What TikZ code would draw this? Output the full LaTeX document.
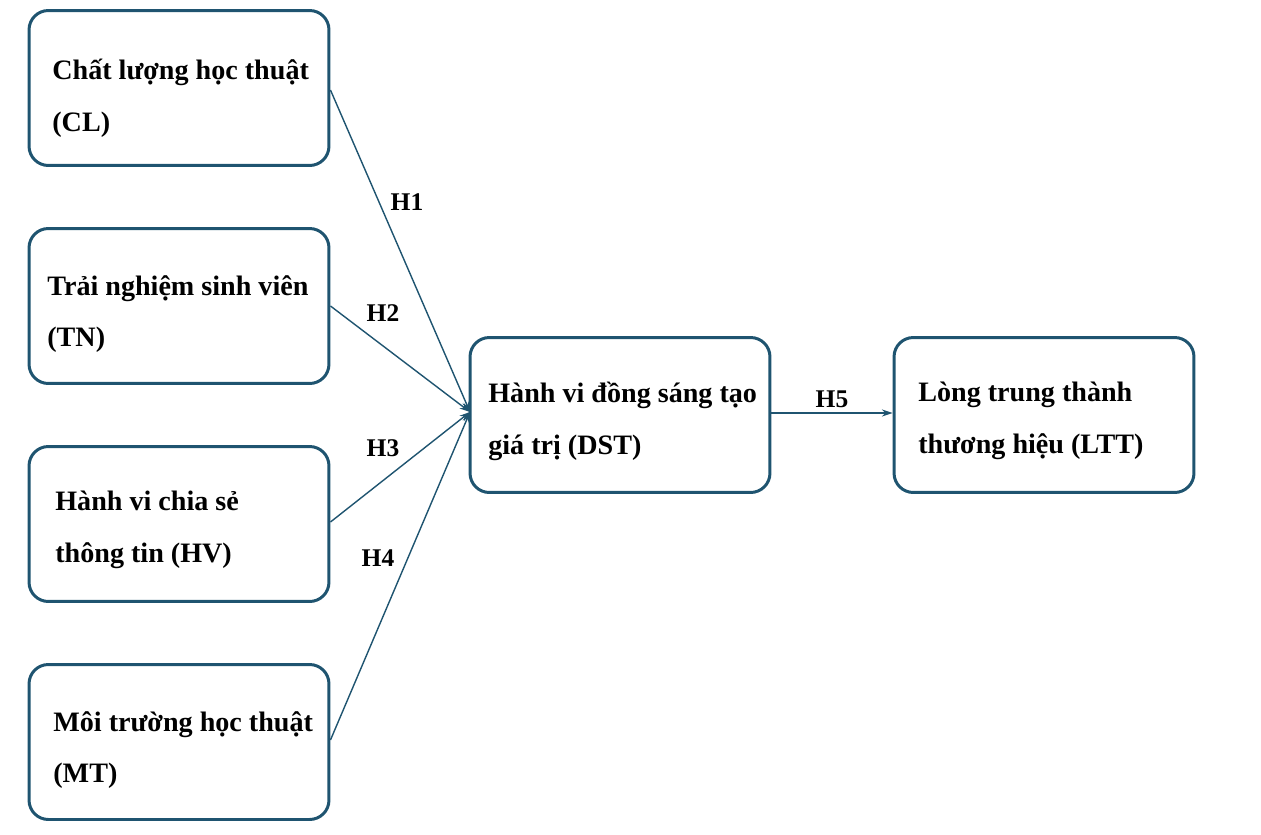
\documentclass[tikz,border=0pt]{standalone}
\usepackage{fontspec}
\setmainfont{Liberation Serif}
\usetikzlibrary{arrows.meta}
\definecolor{bc}{HTML}{1F5470}
\begin{document}
\begin{tikzpicture}[x=0.02cm,y=-0.02cm,
 box/.style={draw=bc,line width=1.7pt,rounded corners=11pt,minimum width=6.0cm,minimum height=3.1cm},
 txt/.style={anchor=west,align=left,inner sep=0pt,font=\fontsize{16pt}{29.5pt}\selectfont\bfseries},
 arr/.style={bc,line width=0.8pt,-{Stealth[length=6pt,width=4pt]}},
 lab/.style={font=\fontsize{14.5pt}{16pt}\selectfont\bfseries}]
\useasboundingbox (0,0) rectangle (1261,835);
\node[box] (cl) at (179,88) {};
\node[box] (tn) at (179,306) {};
\node[box] (hv) at (179,524) {};
\node[box] (mt) at (179,742) {};
\node[box] (dst) at (620,415) {};
\node[box] (ltt) at (1044,415) {};
\node[txt] (tcl) at (52,98) {Chất lượng học thuật\\(CL)};
\node[txt] (ttn) at (47,314) {Trải nghiệm sinh viên\\(TN)};
\node[txt] (thv) at (55,530) {Hành vi chia sẻ\\thông tin (HV)};
\node[txt] (tmt) at (53,750) {Môi trường học thuật\\(MT)};
\node[txt] (tdst) at (488,421) {Hành vi đồng sáng tạo\\giá trị (DST)};
\node[txt] (tltt) at (918,421) {Lòng trung thành\\thương hiệu (LTT)};
\coordinate (t) at (470,412);
\draw[arr] (cl.east |- 0,90) -- (t);
\draw[arr] (tn.east) -- (t);
\draw[arr] (hv.east |- 0,522) -- (t);
\draw[arr] (mt.east |- 0,740) -- (t);
\draw[arr] (dst.east |- 0,413) -- (ltt.west |- 0,413);
\node[lab] (h1) at (407,202) {H1};
\node[lab] (h2) at (383,313) {H2};
\node[lab] (h3) at (383,448) {H3};
\node[lab] (h4) at (378,558) {H4};
\node[lab] (h5) at (832,399) {H5};
\end{tikzpicture}
\end{document}
